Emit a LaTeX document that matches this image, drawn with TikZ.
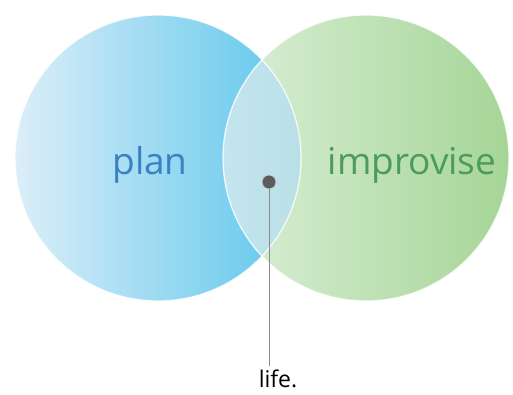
\documentclass[tikz,border=0pt]{standalone}
\usepackage{fontspec}
\setmainfont{Open Sans}
\definecolor{blueL}{HTML}{DCEEF8}
\definecolor{blueR}{HTML}{5CC6EC}
\definecolor{greenL}{HTML}{DAEFD7}
\definecolor{greenR}{HTML}{A6D597}
\definecolor{midL}{HTML}{C4E5EE}
\definecolor{midR}{HTML}{9ED2D3}
\definecolor{planblue}{HTML}{3B80C3}
\definecolor{improvgreen}{HTML}{4B9B5D}
\definecolor{dotgray}{HTML}{5B5B60}
\definecolor{linegray}{HTML}{8A8A8A}

\begin{document}
\begin{tikzpicture}[x=1pt, y=1pt, ring/.style={circle, minimum size=286pt, inner sep=0pt}, word/.style={anchor=base, font=\fontsize{37}{40}\selectfont}, pin/.style={circle, fill=dotgray, draw=gray!40, line width=0.8pt, minimum size=14pt, inner sep=0pt}, n/.style={line width=0.9pt, draw=linegray}]
                \useasboundingbox (0,0) rectangle (513,394);
                % circles
                \node[ring, left color=blueL, right color=blueR] (plan) at (158,236) {};
                \node[ring, left color=greenL, right color=greenR] (improv) at (366,236) {};
                \begin{scope}
                    \clip (158,236) circle (143);
                    \shade[left color=midL, right color=midR] (366,236) circle (143);
                \end{scope}
                \draw[white, line width=1.3pt, opacity=0.8] (158,236) circle (143) (366,236) circle (143);
                % nodes
                \node[word, text=planblue]    (plantext) at (150,220) {plan};
                \node[word, text=improvgreen] (improvtext) at (412,220) {improvise};
                \node[pin]                    (dot) at (269,212) {};
                \node[anchor=base, font=\fontsize{23}{26}\selectfont] (life) at (278,7) {life.};
                % edges
                \draw[n] (dot) -- (dot |- life.north);
            \end{tikzpicture}
\end{document}
